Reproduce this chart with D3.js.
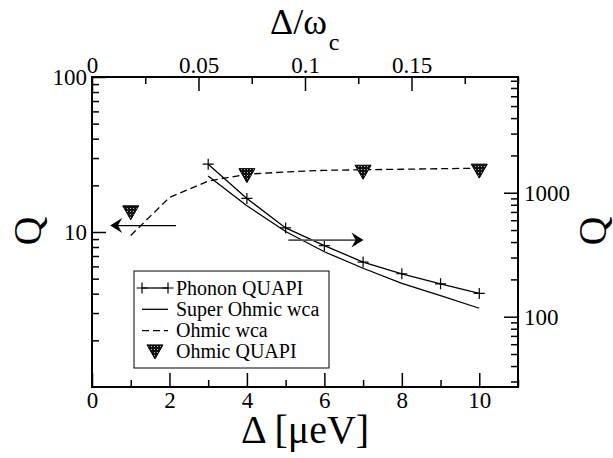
<!DOCTYPE html>
<html>
<head>
<meta charset="utf-8">
<script src="https://cdn.jsdelivr.net/npm/d3@7"></script>
</head>
<body style="margin:0">
<script>
// Δ in μeV, Q values
const deltaQuapi = [3, 4, 5, 6, 7, 8, 9, 10]
const qPhononQuapi = [1700, 900, 520, 374, 276, 222, 184, 154]
const qSuperOhmicWca = [1364, 785, 487, 334, 246, 186, 148, 117]

const deltaOhmicWca = [1, 2, 3, 4, 5, 6, 7, 8, 9, 10]
const qOhmicWca = [9.5, 16.7, 21.3, 23.6, 24.4, 25.0, 25.2, 25.4, 25.6, 25.8]

const deltaOhmicQuapi = [1, 4, 7, 10]
const qOhmicQuapi = [13.3, 23.1, 24.3, 24.7]

// arrows telling which axis each group belongs to
const leftArrowX = [2.17, 0.47]
const leftArrowQ = 11.0
const rightArrowX = [5.07, 7.01]
const rightArrowQ = 415

const bottomTicks = [0, 1, 2, 3, 4, 5, 6, 7, 8, 9, 10, 11]
const bottomLabels = [0, 2, 4, 6, 8, 10]
const topTicks = [0, 0.025, 0.05, 0.075, 0.1, 0.125, 0.15, 0.175, 0.2]
const topLabels = [0, 0.05, 0.1, 0.15]
const leftLabels = [10, 100]
const rightLabels = [100, 1000]

const legendNames = ['Phonon QUAPI', 'Super Ohmic wca', 'Ohmic wca', 'Ohmic QUAPI']

const width = 613
const height = 458
const box = { left: 92, top: 77, right: 518, bottom: 387 }
const SERIF = "'Liberation Serif', 'Times New Roman', Times, monospace"

const svg = d3.select('body').append('svg').attr('width', width).attr('height', height)
  .attr('font-family', 'Liberation Serif')

const x = d3.scaleLinear().domain([0, 11]).range([box.left, box.right])
const xTop = d3.scaleLinear().domain([0, 0.2]).range([box.left, box.right])
const yLeft = d3.scaleLog().domain([1, 100]).range([box.bottom, box.top])
const yRight = d3.scaleLog().domain([27.1, 8580]).range([box.bottom, box.top])

function minorLog(scale) {
  const [a, b] = scale.domain()
  const out = []
  for (let dec = Math.floor(Math.log10(a)); dec <= Math.ceil(Math.log10(b)); dec++) {
    for (let m = 1; m < 10; m++) {
      const v = m * Math.pow(10, dec)
      if (v >= a && v <= b) out.push(v)
    }
  }
  return out
}

const MAJ = 14
const MIN = 7

function serif(sel, size) {
  sel.attr('font-family', 'Liberation Serif').attr('font-size', size)
    .style('font-family', SERIF).style('font-size', size + 'px').attr('fill', '#000')
}

function styleAxis(g) {
  g.attr('font-family', 'Liberation Serif').attr('font-size', 23)
  g.select('.domain').remove()
  g.selectAll('line').attr('stroke', '#000').attr('stroke-width', 1.5)
  g.selectAll('text').call(serif, 23)
}

// bottom axis
svg.append('g').attr('transform', `translate(0,${box.bottom})`)
  .call(d3.axisBottom(x).tickValues(bottomTicks.filter((d) => d % 2 === 1)).tickSize(-MIN).tickFormat(''))
  .call(styleAxis)
svg.append('g').attr('transform', `translate(0,${box.bottom})`)
  .call(d3.axisBottom(x).tickValues(bottomLabels).tickSize(-MAJ).tickFormat(d3.format('d')))
  .call(styleAxis)
  .selectAll('text').attr('y', 5)

// top axis
svg.append('g').attr('transform', `translate(0,${box.top})`)
  .call(d3.axisTop(xTop).tickValues(topTicks.filter((d) => !topLabels.includes(d))).tickSize(-MIN).tickFormat(''))
  .call(styleAxis)
svg.append('g').attr('transform', `translate(0,${box.top})`)
  .call(d3.axisTop(xTop).tickValues(topLabels).tickSize(-MAJ).tickFormat((d) => String(d)))
  .call(styleAxis)
  .selectAll('text').attr('y', -4)

// left axis
svg.append('g').attr('transform', `translate(${box.left},0)`)
  .call(d3.axisLeft(yLeft).tickValues(minorLog(yLeft).filter((d) => !leftLabels.includes(d) && d !== 1)).tickSize(-MIN).tickFormat(''))
  .call(styleAxis)
svg.append('g').attr('transform', `translate(${box.left},0)`)
  .call(d3.axisLeft(yLeft).tickValues(leftLabels).tickSize(-MAJ).tickFormat(d3.format('d')))
  .call(styleAxis)
  .selectAll('text').attr('x', -5).attr('dy', '0.32em')

// right axis
svg.append('g').attr('transform', `translate(${box.right},0)`)
  .call(d3.axisRight(yRight).tickValues(minorLog(yRight).filter((d) => !rightLabels.includes(d))).tickSize(-MIN).tickFormat(''))
  .call(styleAxis)
svg.append('g').attr('transform', `translate(${box.right},0)`)
  .call(d3.axisRight(yRight).tickValues(rightLabels).tickSize(-MAJ).tickFormat(d3.format('d')))
  .call(styleAxis)
  .selectAll('text').attr('x', 6).attr('dy', '0.32em')

// frame
svg.append('rect')
  .attr('x', box.left).attr('y', box.top)
  .attr('width', box.right - box.left).attr('height', box.bottom - box.top)
  .attr('fill', 'none').attr('stroke', '#000').attr('stroke-width', 2)

// axis titles
svg.append('text').attr('x', (box.left + box.right) / 2).attr('y', 443)
  .attr('text-anchor', 'middle').call(serif, 40).text('Δ [μeV]')

const topTitle = svg.append('text').attr('x', 270).attr('y', 34).call(serif, 36)
topTitle.append('tspan').text('Δ/ω')
topTitle.append('tspan').attr('dy', 16).attr('dx', 2).attr('font-size', 24).style('font-size', '24px').text('c')

svg.append('text').attr('transform', 'translate(41,231) rotate(-90)')
  .attr('text-anchor', 'middle').call(serif, 40).text('Q')
svg.append('text').attr('transform', 'translate(606,231) rotate(-90)')
  .attr('text-anchor', 'middle').call(serif, 40).text('Q')

// series
const lineR = d3.line().x((d) => x(d[0])).y((d) => yRight(d[1]))
const lineL = d3.line().x((d) => x(d[0])).y((d) => yLeft(d[1]))

const phonon = d3.zip(deltaQuapi, qPhononQuapi)
const superOhmic = d3.zip(deltaQuapi, qSuperOhmicWca)
const ohmicWca = d3.zip(deltaOhmicWca, qOhmicWca)
const ohmicQuapi = d3.zip(deltaOhmicQuapi, qOhmicQuapi)

const plot = svg.append('g')

plot.append('path').attr('d', lineR(phonon)).attr('fill', 'none').attr('stroke', '#000').attr('stroke-width', 1.3)
plot.append('path').attr('d', lineR(superOhmic)).attr('fill', 'none').attr('stroke', '#000').attr('stroke-width', 1.3)
plot.append('path').attr('d', lineL(ohmicWca)).attr('fill', 'none').attr('stroke', '#000')
  .attr('stroke-width', 1.3).attr('stroke-dasharray', '7,4')

function plusPath(cx, cy, r) {
  return `M${cx - r},${cy}H${cx + r}M${cx},${cy - r}V${cy + r}`
}
function triPath(cx, cy) {
  return `M${cx - 8},${cy - 7}L${cx + 8},${cy - 7}L${cx},${cy + 7}Z`
}

plot.selectAll('path.plus').data(phonon).join('path').attr('class', 'plus')
  .attr('d', (d) => plusPath(x(d[0]), yRight(d[1]), 5.5))
  .attr('stroke', '#000').attr('stroke-width', 1.2)

// stippled dark fill for the triangles
const pat = svg.append('defs').append('pattern').attr('id', 'stipple')
  .attr('width', 3).attr('height', 3).attr('patternUnits', 'userSpaceOnUse')
pat.append('rect').attr('width', 3).attr('height', 3).attr('fill', '#111')
pat.append('rect').attr('x', 1).attr('y', 1).attr('width', 1).attr('height', 1).attr('fill', '#bbb')

plot.selectAll('path.tri').data(ohmicQuapi).join('path').attr('class', 'tri')
  .attr('d', (d) => triPath(x(d[0]), yLeft(d[1])))
  .attr('fill', 'url(#stipple)').attr('stroke', '#000').attr('stroke-width', 1)

// arrows
function arrowHead(tx, ty, dir) {
  const L = 12, w = 7.5
  return `M${tx},${ty}L${tx - dir * L},${ty - w}L${tx - dir * L * 0.65},${ty}L${tx - dir * L},${ty + w}Z`
}
plot.append('line')
  .attr('x1', x(leftArrowX[0])).attr('x2', x(leftArrowX[1]) + 6)
  .attr('y1', yLeft(leftArrowQ)).attr('y2', yLeft(leftArrowQ))
  .attr('stroke', '#000').attr('stroke-width', 1.3)
plot.append('path').attr('d', arrowHead(x(leftArrowX[1]), yLeft(leftArrowQ), -1)).attr('fill', '#000')

plot.append('line')
  .attr('x1', x(rightArrowX[0])).attr('x2', x(rightArrowX[1]) - 6)
  .attr('y1', yRight(rightArrowQ)).attr('y2', yRight(rightArrowQ))
  .attr('stroke', '#555').attr('stroke-width', 1.8)
plot.append('path').attr('d', arrowHead(x(rightArrowX[1]), yRight(rightArrowQ), 1)).attr('fill', '#000')

// legend
const legend = svg.append('g')
legend.append('rect').attr('x', 134).attr('y', 271).attr('width', 195).attr('height', 97)
  .attr('fill', '#fff').attr('stroke', '#000').attr('stroke-width', 1)

const rowY = (i) => 288 + i * 21.3
legendNames.forEach((name, i) => {
  const cy = rowY(i)
  if (i < 3) {
    legend.append('line').attr('x1', 142).attr('x2', 168).attr('y1', cy).attr('y2', cy)
      .attr('stroke', '#000').attr('stroke-width', 1.3)
      .attr('stroke-dasharray', i === 2 ? '7,4' : null)
  }
  if (i === 0) {
    legend.append('path').attr('d', plusPath(142, cy, 5.5) + plusPath(168, cy, 5.5))
      .attr('stroke', '#000').attr('stroke-width', 1.2)
  }
  if (i === 3) {
    legend.append('path').attr('d', triPath(155, cy)).attr('fill', 'url(#stipple)').attr('stroke', '#000')
  }
  legend.append('text').attr('x', 176).attr('y', cy + 6.5).call(serif, 20).text(name)
})
</script>
</body>
</html>
